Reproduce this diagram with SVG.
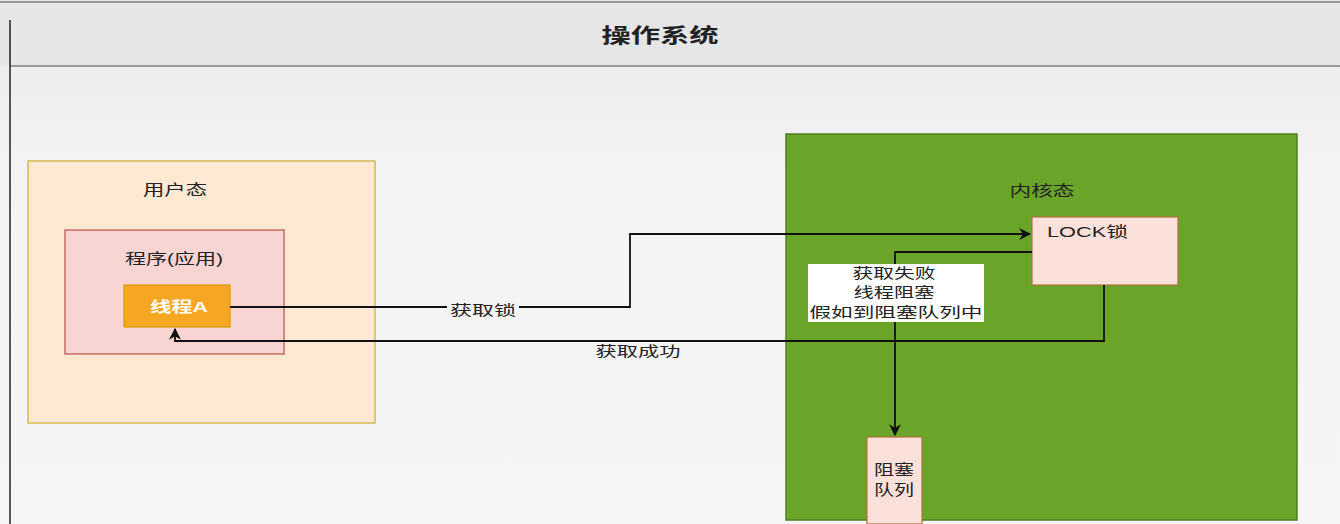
<svg xmlns="http://www.w3.org/2000/svg" width="1340" height="524" viewBox="0 0 1340 524">
<defs>
<style>
.t{font-family:"Liberation Sans","Noto Sans CJK SC",sans-serif;fill:#222}
.c{text-anchor:middle}
.ln{fill:none;stroke:#111;stroke-width:1.8}
</style>
<linearGradient id="bg" x1="0" y1="0" x2="0" y2="1">
<stop offset="0" stop-color="#e9e9e9"/><stop offset="0.35" stop-color="#f4f4f4"/><stop offset="1" stop-color="#f5f5f5"/>
</linearGradient>
<marker id="ah" viewBox="0 0 10 10" refX="9" refY="5" markerWidth="12" markerHeight="12" orient="auto" markerUnits="userSpaceOnUse">
<path d="M0,0 L10,5 L0,10 L3,5 z" fill="#111"/>
</marker>
</defs>
<rect x="0" y="0" width="1340" height="524" fill="url(#bg)"/>
<rect x="0" y="0" width="1340" height="66" fill="#e6e6e6"/>
<line x1="0" y1="2" x2="1340" y2="2" stroke="#9a9a9a" stroke-width="2"/>
<line x1="10" y1="66" x2="1340" y2="66" stroke="#9a9a9a" stroke-width="2"/>
<line x1="10" y1="20" x2="10" y2="524" stroke="#222" stroke-width="1.5"/>
<text class="t c" x="660" y="43" font-size="20" font-weight="bold" textLength="117" lengthAdjust="spacingAndGlyphs">操作系统</text>

<g id="user">
<rect x="28" y="161" width="347" height="262" fill="#ffe9d2" stroke="#d6b656" stroke-width="1.5"/>
<text class="t c" x="175" y="195" font-size="15" textLength="64" lengthAdjust="spacingAndGlyphs">用户态</text>
</g>
<g id="program">
<rect x="65" y="230" width="219" height="124" fill="#f8d5d3" stroke="#b85450" stroke-width="1.2"/>
<text class="t c" x="174" y="264" font-size="15" textLength="98" lengthAdjust="spacingAndGlyphs">程序(应用)</text>
</g>
<g id="threadA">
<rect x="124" y="285" width="106" height="42" fill="#f5a623" stroke="#d79b00" stroke-width="1.2"/>
<text class="t c" x="179" y="312" font-size="15" font-weight="bold" style="fill:#fff" textLength="58" lengthAdjust="spacingAndGlyphs">线程A</text>
</g>
<g id="kernel">
<rect x="786" y="134" width="511" height="386" fill="#6aa52a" stroke="#4f7f1d" stroke-width="1.5"/>
<text class="t c" x="1042" y="196" font-size="15" textLength="65" lengthAdjust="spacingAndGlyphs">内核态</text>
</g>
<g id="lock">
<rect x="1032" y="217" width="146" height="68" fill="#fce0da" stroke="#b0703a" stroke-width="1.2"/>
<text class="t" x="1047" y="237" font-size="15" textLength="81" lengthAdjust="spacingAndGlyphs">LOCK锁</text>
</g>
<g id="queue">
<rect x="867" y="437" width="55" height="87" fill="#fce0da" stroke="#b0703a" stroke-width="1.2"/>
<text class="t" x="874" y="475" font-size="15" textLength="40" lengthAdjust="spacingAndGlyphs">阻塞</text>
<text class="t" x="874" y="495" font-size="15" textLength="40" lengthAdjust="spacingAndGlyphs">队列</text>
</g>

<g id="connectors">
<path class="ln" d="M230,307 H630 V234 H1030" marker-end="url(#ah)"/>
<rect x="447" y="300" width="72" height="18" fill="#f4f4f4"/>
<text class="t c" x="483" y="315" font-size="14" textLength="66" lengthAdjust="spacingAndGlyphs">获取锁</text>
<path class="ln" d="M1104,285 V341 H175 V329" marker-end="url(#ah)"/>
<rect x="593" y="342" width="90" height="18" fill="#f4f4f4"/>
<text class="t c" x="638" y="356" font-size="14" textLength="85" lengthAdjust="spacingAndGlyphs">获取成功</text>
<path class="ln" d="M1032,252 H895 V435" marker-end="url(#ah)"/>
<rect x="808" y="264" width="176" height="58" fill="#ffffff"/>
<text class="t c" x="894" y="278" font-size="14" textLength="83" lengthAdjust="spacingAndGlyphs">获取失败</text>
<text class="t c" x="894" y="297" font-size="14" textLength="81" lengthAdjust="spacingAndGlyphs">线程阻塞</text>
<text class="t c" x="896" y="317" font-size="14" textLength="173" lengthAdjust="spacingAndGlyphs">假如到阻塞队列中</text>
</g>
</svg>
